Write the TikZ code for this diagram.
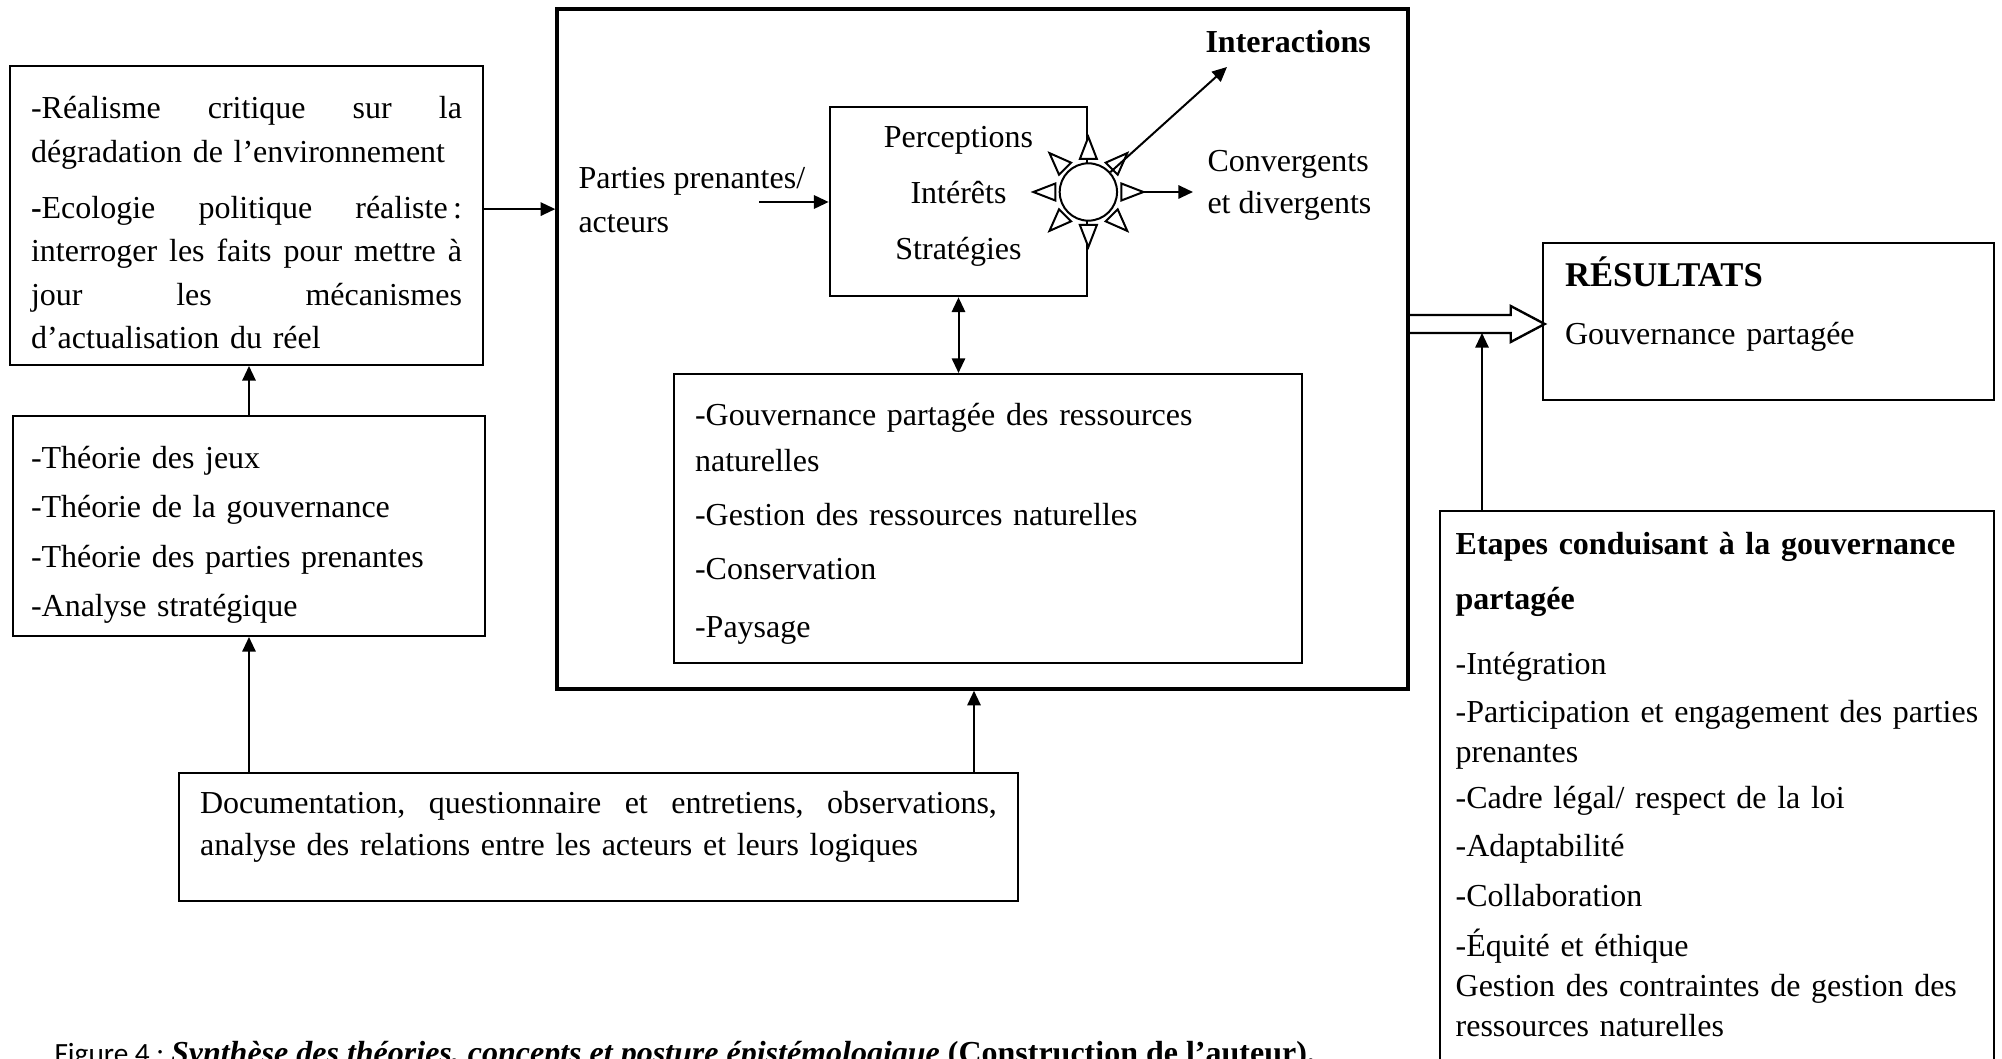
\documentclass[tikz,border=0pt]{standalone}
\usepackage{fontspec}
\setmainfont{Liberation Serif}
\newfontfamily\capfont{Carlito}
\usetikzlibrary{positioning,calc,arrows.meta}
\setlength{\parindent}{0pt}
\newcommand{\jl}[2]{\leavevmode\hbox to #1{#2}}

\begin{document}
\begin{tikzpicture}[x=0.375pt, y=0.375pt,
  every node/.style={font=\fontsize{12}{16}\selectfont},
  box/.style={draw, line width=0.75pt, inner ysep=0pt, align=left},
  arr/.style={-{Triangle[length=5.5pt,width=5pt]}, line width=0.75pt},
  arrboth/.style={{Triangle[length=5.5pt,width=5pt]}-{Triangle[length=5.5pt,width=5pt]}, line width=0.75pt},
  ray/.style={draw, fill=white, line width=0.75pt, line join=miter}]
\useasboundingbox (0,0) rectangle (2002,-1059);

% left column
\node[box, text width=161.6pt, inner xsep=7.9pt, minimum height=112.1pt, text height=13.8pt,
  font=\fontsize{12}{16.3}\selectfont] (ltop) at (246.5,-215.5)
  {\jl{161.6pt}{-Réalisme\hfill critique\hfill sur\hfill la}\\
   dégradation de l’environnement\\[4.7pt]
   \jl{161.6pt}{\textbf{-}Ecologie\hfill politique\hfill réaliste\,:}\\
   \jl{161.6pt}{interroger\hfill les\hfill faits\hfill pour\hfill mettre\hfill à}\\
   \jl{161.6pt}{jour\hfill les\hfill mécanismes}\\
   d’actualisation du réel};
\node[box, text width=163.5pt, inner xsep=6.75pt, minimum height=82.5pt, text height=15pt,
  font=\fontsize{12}{18.6}\selectfont] (lmid) at (249,-526)
  {-Théorie des jeux\\ -Théorie de la gouvernance\\ -Théorie des parties prenantes\\ -Analyse stratégique};
\node[box, text width=298.8pt, inner xsep=7.9pt, minimum height=48pt, text depth=25.9pt,
  font=\fontsize{12}{15.75}\selectfont] (methods) at (598.5,-837)
  {\jl{298.8pt}{Documentation,\hfill questionnaire\hfill et\hfill entretiens,\hfill observations,}\\
   analyse des relations entre les acteurs et leurs logiques};

% central frame
\node[box, line width=1.3pt, minimum width=319.1pt, minimum height=255pt] (main) at (982.5,-349) {};
\node[box, line width=1pt, minimum width=96.4pt, minimum height=70.9pt, align=center, text depth=6.2pt,
  font=\fontsize{12}{21}\selectfont] (pis) at (958.5,-201.5) {Perceptions\\ Intérêts\\ Stratégies};
\node[box, text width=219.7pt, inner xsep=7.9pt, minimum height=108.4pt, text height=12pt,
  font=\fontsize{12}{17.25}\selectfont] (res) at (988,-518.5)
  {-Gouvernance partagée des ressources\\ naturelles\\[3pt]
   -Gestion des ressources naturelles\\[3pt] -Conservation\\[4.5pt] -Paysage};
\node[anchor=west, align=left, inner sep=0pt, font=\fontsize{12}{16.5}\selectfont] (acteurs) at (578,-200)
  {Parties prenantes/\\ acteurs};
\node[anchor=west, align=left, inner sep=0pt, font=\fontsize{12}{15.75}\selectfont] (conv) at (1207,-185)
  {Convergents\\ et divergents};
\node[anchor=west, inner sep=0pt, font=\fontsize{12}{14}\selectfont\bfseries] (inter) at (1205,-42) {Interactions};

% sun on the right edge
\node[circle, draw, fill=white, line width=0.75pt, minimum size=21.5pt, inner sep=0pt] (sun) at (pis.east |- 0,-192) {};
\foreach \a in {0,45,...,315}{
  \draw[ray] ($(sun)+(\a:33)+(\a+90:8.5)$) -- ($(sun)+(\a:55)$) coordinate (tip\a)
    -- ($(sun)+(\a:33)+(\a-90:8.5)$) -- cycle;
}
\coordinate (itip) at (1227,-67);
\coordinate (cend) at (1193,-192);
\coordinate (pstart) at (759,-202);
\draw[arr] (sun) -- (itip);
\draw[arr] (tip0) -- (cend);
\draw[arr] (pstart) -- (pstart -| pis.west);
\draw[arrboth] (pis.south) -- (pis.south |- res.north);

% right column
\node[box, text width=152.6pt, inner xsep=8.25pt, minimum height=58.9pt, text depth=37.5pt,
  font=\fontsize{12}{21.75}\selectfont] (result) at (1768.5,-321.5)
  {{\fontsize{13}{15}\selectfont\bfseries RÉSULTATS}\\ Gouvernance partagée};
\node[box, text width=196pt, inner xsep=5.9pt, minimum height=211.5pt, text depth=187.2pt,
  font=\fontsize{12}{15}\selectfont] (etapes) at (1717,-793)
  {\textbf{Etapes conduisant à la gouvernance}\\[5.6pt]
   \textbf{partagée}\\[9.4pt]
   -Intégration\\[3pt]
   -Participation et engagement des parties\\
   prenantes\\[2.3pt]
   -Cadre légal/ respect de la loi\\[3pt]
   -Adaptabilité\\[3.75pt]
   -Collaboration\\[3.75pt]
   -Équité et éthique\\
   Gestion des contraintes de gestion des\\
   ressources naturelles};

% connectors
\draw[arr] (lmid.north) -- (lmid.north |- ltop.south);
\draw[arr] ([yshift=2.4pt]ltop.east) -- ([yshift=2.4pt]ltop.east -| main.west);
\draw[arr] (methods.north -| lmid.south) -- (lmid.south);
\draw[arr] (methods.north -| 974,0) -- (main.south -| 974,0);

% hollow arrow to the results
\coordinate (hb) at (main.east |- 0,-324);
\draw[line width=0.9pt, line join=miter] (hb) ++(0,9) -- ++(101,0) -- ++(0,9) -- ++(34,-18)
  -- ++(-34,-18) -- ++(0,9) -- ++(-101,0);
\coordinate (hbot) at (1482,-333);
\draw[arr] (hbot |- etapes.north) -- (hbot);

% caption
\node[anchor=base west, inner sep=0pt] (caption) at (54,-1063)
  {{\capfont\fontsize{11}{13}\selectfont Figure 4 :}\hspace{2.5pt}\textbf{\textit{Synthèse des théories, concepts et posture épistémologique}} \textbf{(Construction de l’auteur).}};
\end{tikzpicture}
\end{document}
